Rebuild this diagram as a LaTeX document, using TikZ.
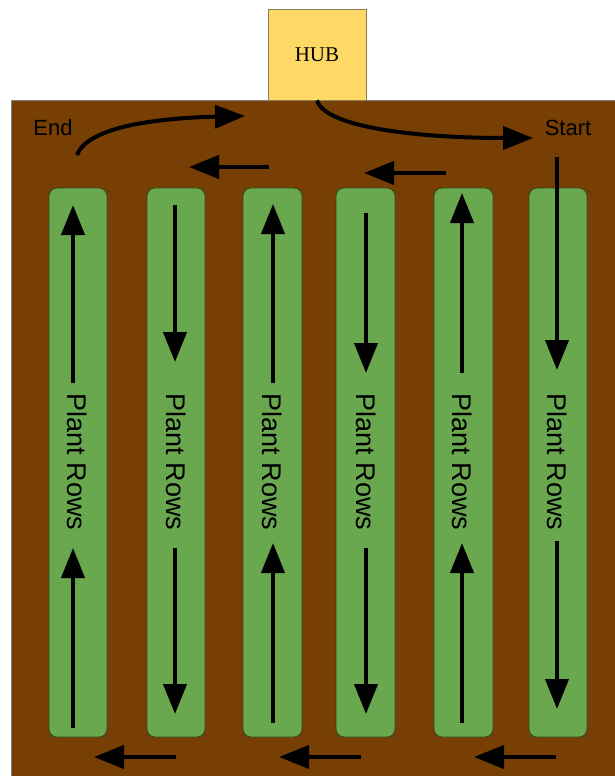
\documentclass[tikz,border=0pt]{standalone}
\usepackage{fontspec}
\setmainfont{Liberation Sans}
\newfontfamily\hubfont{Liberation Serif}
\usetikzlibrary{arrows.meta}
\definecolor{soil}{HTML}{783F04}
\definecolor{leaf}{HTML}{6AA84F}
\definecolor{leafedge}{HTML}{2F4A1E}
\definecolor{hubfill}{HTML}{FFD966}
\definecolor{hubedge}{HTML}{8C7F55}
\tikzset{
  rowbed/.style={draw=leafedge, line width=0.8pt, fill=leaf, rounded corners=8pt},
  flow/.style={line width=4pt, -{Triangle[length=30pt,width=23pt]}},
  rowlabel/.style={rotate=-90, font=\fontsize{27}{30}\selectfont, inner sep=0pt},
  tag/.style={font=\fontsize{22}{26}\selectfont, inner sep=0pt}
}
\begin{document}
\begin{tikzpicture}[x=1pt,y=-1pt]
\useasboundingbox (0,0) rectangle (615,776);
% soil field
\fill[soil] (11,100) rectangle (615,776);
\draw[gray, line width=1pt] (11,776) -- (11,100) -- (615,100);
% hub
\node[draw=hubedge, line width=1pt, fill=hubfill, minimum width=98pt, minimum height=90pt,
      inner sep=0pt, font=\hubfont\fontsize{21}{24}\selectfont] (hub) at (317,55) {HUB};
% plant rows
\path[rowbed] (49,188) rectangle (107,737) coordinate (row1);
\path[rowbed] (147,188) rectangle (205,737) coordinate (row2);
\path[rowbed] (243,188) rectangle (302,737) coordinate (row3);
\path[rowbed] (336,188) rectangle (395,737) coordinate (row4);
\path[rowbed] (434,188) rectangle (493,737) coordinate (row5);
\path[rowbed] (529,188) rectangle (587,737) coordinate (row6);
\node[rowlabel] (lab1) at (77,462) {Plant Rows};
\node[rowlabel] (lab2) at (176,462) {Plant Rows};
\node[rowlabel] (lab3) at (272,462) {Plant Rows};
\node[rowlabel] (lab4) at (366,462) {Plant Rows};
\node[rowlabel] (lab5) at (462,462) {Plant Rows};
\node[rowlabel] (lab6) at (557,462) {Plant Rows};
% end / start labels
\node[tag] (end) at (53,128) {End};
\node[tag] (start) at (568,128) {Start};
% route points
\coordinate (endtail) at (77,155);
\coordinate (endtip) at (245,116);
\coordinate (starttip) at (533,138);
\draw[flow] (hub.south) .. controls (326,128) and (420,138) .. (starttip);
\draw[flow] (endtail) .. controls (88,126) and (160,118) .. (endtip);
% row arrows
\draw[flow] (73,383) -- (73,205);
\draw[flow] (73,728) -- (73,548);
\draw[flow] (175,205) -- (175,362);
\draw[flow] (175,548) -- (175,714);
\draw[flow] (273,383) -- (273,204);
\draw[flow] (273,723) -- (273,543);
\draw[flow] (366,213) -- (366,373);
\draw[flow] (366,548) -- (366,714);
\draw[flow] (462,373) -- (462,193);
\draw[flow] (462,723) -- (462,543);
\draw[flow] (557,157) -- (557,370);
\draw[flow] (557,541) -- (557,709);
% crossings between rows
\draw[flow] (269,167) -- (189,167);
\draw[flow] (446,173) -- (364,173);
\draw[flow] (176,757) -- (94,757);
\draw[flow] (361,757) -- (279,757);
\draw[flow] (556,757) -- (474,757);
\end{tikzpicture}
\end{document}
